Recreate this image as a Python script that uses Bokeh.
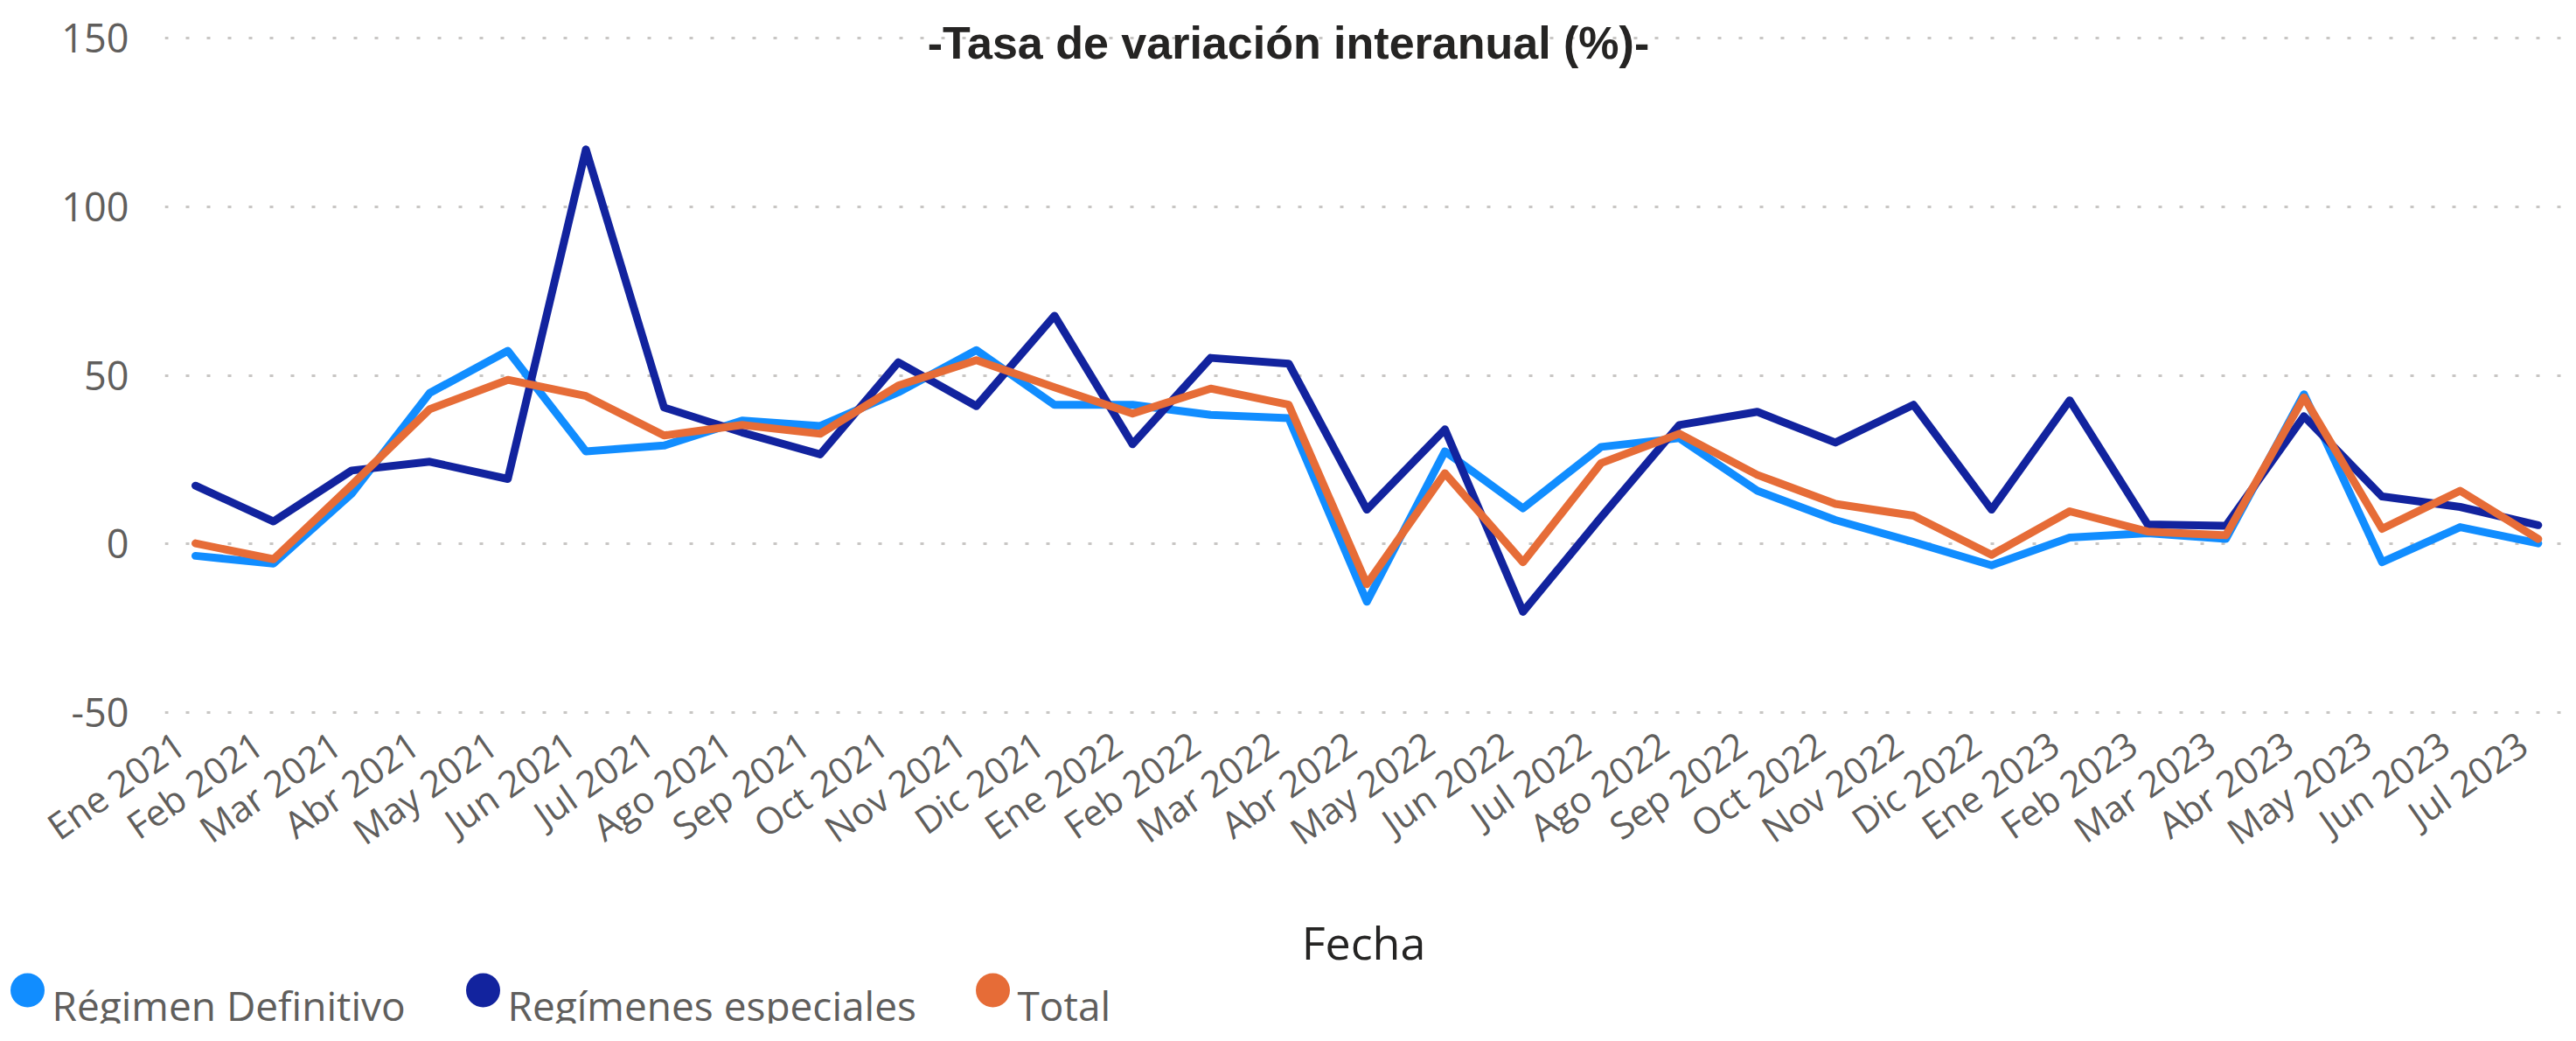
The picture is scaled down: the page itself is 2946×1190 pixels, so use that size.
import math
from bokeh.plotting import figure
from bokeh.layouts import column
from bokeh.models import Range1d, FixedTicker, Label
from bokeh.core.properties import value
from bokeh.embed import file_html
from bokeh.resources import INLINE

# ---------------- data ----------------
categories = ["Ene 2021", "Feb 2021", "Mar 2021", "Abr 2021", "May 2021", "Jun 2021",
              "Jul 2021", "Ago 2021", "Sep 2021", "Oct 2021", "Nov 2021", "Dic 2021",
              "Ene 2022", "Feb 2022", "Mar 2022", "Abr 2022", "May 2022", "Jun 2022",
              "Jul 2022", "Ago 2022", "Sep 2022", "Oct 2022", "Nov 2022", "Dic 2022",
              "Ene 2023", "Feb 2023", "Mar 2023", "Abr 2023", "May 2023", "Jun 2023",
              "Jul 2023"]

regimen_definitivo = [-3.5, -5.8, 14.9, 44.8, 57.3, 27.5, 29.2, 36.6, 35.0, 45.0, 57.5,
                      41.3, 41.3, 38.3, 37.3, -17.1, 27.5, 10.6, 28.8, 31.4, 15.8, 7.1,
                      0.6, -6.3, 1.9, 3.2, 1.5, 44.4, -5.4, 5.0, 0.2]
regimenes_especiales = [17.3, 6.7, 21.8, 24.4, 19.3, 117.0, 40.5, 33.1, 26.6, 53.9, 40.9,
                        67.7, 29.6, 55.2, 53.5, 10.2, 34.0, -20.1, 8.0, 35.3, 39.2, 30.1,
                        41.3, 10.2, 42.6, 5.8, 5.4, 37.9, 14.1, 11.0, 5.6]
total = [0.2, -4.5, 17.5, 40.0, 48.7, 43.9, 32.2, 35.3, 32.7, 47.0, 54.5, 46.5, 38.7,
         46.1, 41.3, -11.9, 21.0, -5.4, 24.0, 32.7, 20.5, 11.9, 8.4, -3.2, 9.7, 3.7, 2.6,
         43.5, 4.5, 15.8, 1.5]

series_names = ["Régimen Definitivo", "Regímenes especiales", "Total"]
series_colors = ["#118DFF", "#12239E", "#E66C37"]
y_ticks = [-50, 0, 50, 100, 150]
title_text = "-Tasa de variación interanual (%)-"
x_axis_title = "Fecha"

# ---------------- layout constants (canvas px) ----------------
W = 2930
FRAME_LEFT, FRAME_RIGHT_PAD = 188, 0
FRAME_BOTTOM = 818                      # frame top is at 0
H_MAIN = FRAME_BOTTOM + 205
H_STRIP = 147
LEGEND_DOT_X = [31, 552, 1135]
LEGEND_TEXT_GAP = 28
LEGEND_BASELINE = 22                    # px above the strip bottom
AXIS_TITLE_BASELINE = 94                # px above the strip bottom


def no_frame_align(fig):
    if "frame_align" in fig.properties():
        fig.frame_align = False


# ---------------- main figure ----------------
p = figure(width=W, height=H_MAIN, output_backend="svg", toolbar_location=None,
           x_range=Range1d(-0.392, 30.31), y_range=Range1d(-51, 161.2),
           min_border_left=FRAME_LEFT, min_border_right=FRAME_RIGHT_PAD,
           min_border_top=0, min_border_bottom=H_MAIN - FRAME_BOTTOM)
no_frame_align(p)
p.outline_line_color = None
p.background_fill_color = "white"
p.border_fill_color = "white"

xs = list(range(len(categories)))
all_series = [regimen_definitivo, regimenes_especiales, total]
for vals, col in zip(all_series, series_colors):
    p.line(xs, vals, line_color=col, line_width=9, line_join="round", line_cap="round")

label_shift = 0.2
tick_pos = [i - label_shift for i in xs]
p.xaxis.ticker = FixedTicker(ticks=tick_pos)
p.xaxis.major_label_overrides = {t: c for t, c in zip(tick_pos, categories)}
p.xaxis.major_label_orientation = math.radians(35)
p.yaxis.ticker = FixedTicker(ticks=y_ticks)
p.yaxis.major_label_overrides = {v: str(v) for v in y_ticks}
for ax in (p.xaxis, p.yaxis):
    ax.axis_line_color = None
    ax.major_tick_line_color = None
    ax.minor_tick_line_color = None
    ax.major_tick_out = 0
    ax.major_tick_in = 0
    ax.major_label_text_font = "Open Sans"
    ax.major_label_text_color = "#605E5C"
p.yaxis.major_label_text_font_size = "45px"
p.yaxis.major_label_standoff = 41
p.xaxis.major_label_text_font_size = "42px"
p.xaxis.major_label_standoff = 27

p.xgrid.grid_line_color = None
p.ygrid.ticker = FixedTicker(ticks=y_ticks)
p.ygrid.grid_line_color = "#C8C6C4"
p.ygrid.grid_line_width = 3
p.ygrid.grid_line_dash = "4 20"

# title (inside the frame, at the top)
frame_w = W - FRAME_LEFT - FRAME_RIGHT_PAD
p.add_layout(Label(x=1473 - FRAME_LEFT, y=FRAME_BOTTOM - 48,
                   x_units="screen", y_units="screen",
                   text=title_text, text_font="Liberation Sans", text_font_style="bold",
                   text_font_size="52px", text_color="#252423",
                   text_align="center", text_baseline="alphabetic"))

# ---------------- strip: axis title + legend ----------------
pl = figure(width=W, height=H_STRIP, output_backend="svg", toolbar_location=None,
            x_range=Range1d(0, W), y_range=Range1d(0, H_STRIP),
            x_axis_location=None, y_axis_location=None,
            min_border_left=0, min_border_right=0, min_border_top=0, min_border_bottom=0)
no_frame_align(pl)
pl.outline_line_color = None
pl.grid.grid_line_color = None

pl.text(x=[FRAME_LEFT + frame_w / 2], y=[AXIS_TITLE_BASELINE], text=[x_axis_title],
        text_font=value("Open Sans"), text_font_size="52px", text_color="#252423",
        text_align="center", text_baseline="alphabetic")

pl.scatter(x=LEGEND_DOT_X, y=[LEGEND_BASELINE + 16.5] * len(LEGEND_DOT_X),
           marker="circle", size=39, fill_color=series_colors, line_color=None)
pl.text(x=[x + LEGEND_TEXT_GAP for x in LEGEND_DOT_X], y=[LEGEND_BASELINE] * 3,
        text=series_names, text_font=value("Open Sans"), text_font_size="46px",
        text_color="#605E5C", text_align="left", text_baseline="alphabetic")

layout = column(p, pl, spacing=0)
open("out.html", "w").write(file_html(layout, INLINE))
